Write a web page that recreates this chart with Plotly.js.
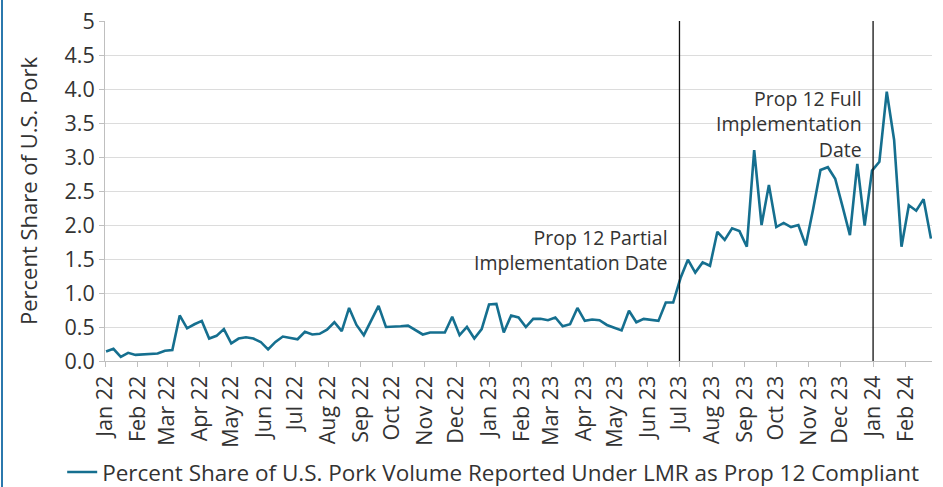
<!DOCTYPE html>
<html>
<head>
<meta charset="utf-8">
<script src="https://cdn.plot.ly/plotly-3.0.1.min.js"></script>
<style>
html,body{margin:0;padding:0;background:#fff;}
#chart{width:943px;height:487px;}
#edge{position:absolute;left:1px;top:0;width:2px;height:487px;background:#2b78ad;}
</style>
</head>
<body>
<div id="chart"></div>
<div id="edge"></div>
<script>
const weeks = [
"2022-01-02","2022-01-09","2022-01-16","2022-01-23","2022-01-30",
"2022-02-06","2022-02-13","2022-02-20","2022-02-27",
"2022-03-06","2022-03-13","2022-03-20","2022-03-27",
"2022-04-03","2022-04-10","2022-04-17","2022-04-24",
"2022-05-01","2022-05-08","2022-05-15","2022-05-22","2022-05-29",
"2022-06-05","2022-06-12","2022-06-19","2022-06-26",
"2022-07-03","2022-07-10","2022-07-17","2022-07-24","2022-07-31",
"2022-08-07","2022-08-14","2022-08-21","2022-08-28",
"2022-09-04","2022-09-11","2022-09-18","2022-09-25",
"2022-10-02","2022-10-09","2022-10-16","2022-10-23","2022-10-30",
"2022-11-06","2022-11-13","2022-11-20","2022-11-27",
"2022-12-04","2022-12-11","2022-12-18","2022-12-25",
"2023-01-01","2023-01-08","2023-01-15","2023-01-22","2023-01-29",
"2023-02-05","2023-02-12","2023-02-19","2023-02-26",
"2023-03-05","2023-03-12","2023-03-19","2023-03-26",
"2023-04-02","2023-04-09","2023-04-16","2023-04-23","2023-04-30",
"2023-05-07","2023-05-14","2023-05-21","2023-05-28",
"2023-06-04","2023-06-11","2023-06-18","2023-06-25",
"2023-07-02","2023-07-09","2023-07-16","2023-07-23","2023-07-30",
"2023-08-06","2023-08-13","2023-08-20","2023-08-27",
"2023-09-03","2023-09-10","2023-09-17","2023-09-24",
"2023-10-01","2023-10-08","2023-10-15","2023-10-22","2023-10-29",
"2023-11-05","2023-11-12","2023-11-19","2023-11-26",
"2023-12-03","2023-12-10","2023-12-17","2023-12-24","2023-12-31",
"2024-01-07","2024-01-14","2024-01-21","2024-01-28",
"2024-02-04","2024-02-11","2024-02-18","2024-02-25"
];
const share = [
0.14,0.18,0.06,0.12,0.09,0.10,0.11,0.11,0.15,0.16,
0.67,0.48,0.54,0.59,0.33,0.37,0.47,0.26,0.33,0.35,
0.33,0.28,0.17,0.28,0.36,0.34,0.32,0.43,0.39,0.40,
0.46,0.57,0.44,0.78,0.53,0.38,0.60,0.81,0.50,0.50,
0.51,0.52,0.46,0.39,0.42,0.42,0.42,0.65,0.38,0.50,
0.33,0.47,0.83,0.84,0.42,0.67,0.64,0.50,0.62,0.62,
0.60,0.64,0.51,0.54,0.78,0.59,0.61,0.60,0.53,0.49,
0.45,0.74,0.57,0.62,0.60,0.59,0.86,0.86,1.22,1.49,
1.30,1.45,1.40,1.90,1.78,1.95,1.91,1.68,3.10,2.00,
2.59,1.97,2.03,1.97,2.00,1.70,2.23,2.81,2.85,2.68,
2.27,1.85,2.90,1.99,2.80,2.93,3.96,3.25,1.68,2.29,
2.21,2.38,1.80
];
const seriesName = "Percent Share of U.S. Pork Volume Reported Under LMR as Prop 12 Compliant";
const yTitle = "Percent Share of U.S. Pork";
const yTickVals = [0,0.5,1,1.5,2,2.5,3,3.5,4,4.5,5];
const yTickText = ["0.0","0.5","1.0","1.5","2.0","2.5","3.0","3.5","4.0","4.5","5"];
const eventDates = ["2023-07-01","2024-01-01"];
const eventLabels = ["Prop 12 Partial<br>Implementation Date","Prop 12 Full<br>Implementation<br>Date"];
const eventLabelY = [1.63,3.49];

const FONT = "'Open Sans', sans-serif";
const TXT = "#333333";

const shapes = eventDates.map(d => ({
  type:"line", xref:"x", yref:"y", x0:d, x1:d, y0:0, y1:5,
  line:{color:"#111111", width:1.3}
}));
const annotations = eventDates.map((d,i) => ({
  x:d, y:eventLabelY[i], xref:"x", yref:"y",
  text:eventLabels[i], showarrow:false, xanchor:"right", yanchor:"middle",
  xshift:-9, align:"right", font:{family:FONT, size:19.5, color:TXT}
}));
annotations.push({
  x:0, y:0.5, xref:"paper", yref:"paper", text:yTitle, textangle:-90,
  showarrow:false, xanchor:"center", yanchor:"middle", xshift:-77,
  font:{family:FONT, size:22, color:TXT}
});

Plotly.newPlot("chart", [{
  x:weeks, y:share, type:"scatter", mode:"lines", name:seriesName,
  line:{color:"#156f8f", width:2.6}
}], {
  width:943, height:487,
  margin:{l:105, r:11, t:21, b:126, autoexpand:false},
  paper_bgcolor:"#ffffff", plot_bgcolor:"#ffffff",
  font:{family:FONT, color:TXT},
  showlegend:true,
  legend:{orientation:"h", xref:"container", yref:"container", x:0.523, xanchor:"center",
          y:0.03, yanchor:"middle", font:{family:FONT, size:22.5, color:TXT}},
  xaxis:{type:"date", range:["2022-01-01","2024-02-26"], tick0:"2022-01-01", dtick:"M1",
         tickformat:"%b %y", tickangle:-90, ticks:"outside", ticklen:5, tickcolor:"#bfbfbf",
         showgrid:false, showline:true, linecolor:"#bfbfbf", linewidth:1, automargin:false,
         tickfont:{family:FONT, size:21.5, color:TXT}, zeroline:false},
  yaxis:{range:[0,5], tickvals:yTickVals, ticktext:yTickText, ticks:"outside", ticklen:5,
         tickcolor:"#bfbfbf", showgrid:true, gridcolor:"#dcdcdc", gridwidth:1,
         showline:true, linecolor:"#bfbfbf", linewidth:1, zeroline:false, automargin:false,
         tickfont:{family:FONT, size:21.5, color:TXT}},
  shapes:shapes, annotations:annotations
}, {displayModeBar:false, staticPlot:true});
</script>
</body>
</html>
